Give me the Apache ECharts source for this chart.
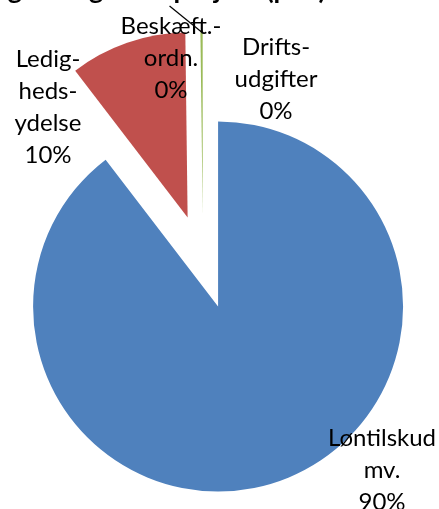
<!DOCTYPE html>
<html>
<head>
<meta charset="utf-8">
<script src="https://cdn.jsdelivr.net/npm/echarts@6/dist/echarts.min.js"></script>
<style>
  html, body { margin: 0; padding: 0; background: #fff; }
  #chart { width: 439px; height: 509px; }
</style>
</head>
<body>
<div id="chart"></div>
<script>
// categories and values (share of total)
var categories = ['Løntilskud\nmv.', 'Ledig-\nheds-\nydelse', 'Beskæft.-\nordn.', 'Drifts-\nudgifter'];
var values = [89.6, 10.2, 0.2, 0];
var colors = ['#4F81BD', '#C0504D', '#9BBB59', '#8064A2'];

// layout
var pieCenter = [203, 262];
var pieRadius = 185;
var explode = 47;
var labelPos = [[382, 470], [48, 107], [171, 58], [276, 79]];

var total = values.reduce(function (a, b) { return a + b; }, 0);

var data = [];
for (var i = 0; i < categories.length; i++) {
    data.push({
        name: categories[i],
        value: values[i],
        selected: true,
        itemStyle: { color: colors[i] }
    });
}

// data labels as text, built from the arrays
var graphics = [];
for (var j = 0; j < categories.length; j++) {
    graphics.push({
        type: 'text',
        z: 10,
        style: {
            text: categories[j] + '\n' + Math.round(values[j] / total * 100) + '%',
            x: labelPos[j][0],
            y: labelPos[j][1],
            align: 'center',
            verticalAlign: 'middle',
            font: '24px Lato',
            lineHeight: 32,
            fill: '#000'
        }
    });
}

// leader line of the thin green slice (from its outer edge, up-left)
var startFrac = (values[0] + values[1] + values[2] / 2) / total;
var ang = startFrac * 2 * Math.PI;
var cx = pieCenter[0] + Math.sin(ang) * explode;
var cy = pieCenter[1] - Math.cos(ang) * explode;
var ex = cx + Math.sin(ang) * pieRadius;
var ey = cy - Math.cos(ang) * pieRadius + 2;
graphics.push({
    type: 'line',
    z: 10,
    shape: { x1: ex, y1: ey, x2: ex - 32, y2: ey - 26 },
    style: { stroke: '#000', lineWidth: 1.2 }
});

var chart = echarts.init(document.getElementById('chart'));
chart.setOption({
    animation: false,
    title: {
        text: 'Fordeling af udgifter i projekt (pct.)',
        left: -95,
        top: -28,
        textStyle: { fontFamily: 'Lato', fontWeight: 'bold', fontSize: 27, color: '#000' }
    },
    graphic: graphics,
    series: [{
        type: 'pie',
        center: pieCenter,
        radius: pieRadius,
        startAngle: 90,
        clockwise: true,
        selectedMode: 'multiple',
        selectedOffset: explode,
        silent: true,
        emphasis: { disabled: true },
        label: { show: false },
        labelLine: { show: false },
        data: data
    }]
});
</script>
</body>
</html>
